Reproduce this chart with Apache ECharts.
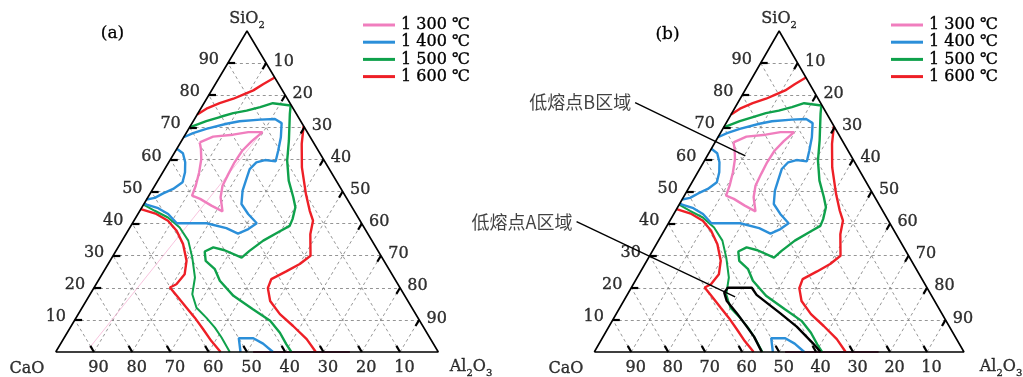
<!DOCTYPE html>
<html>
<head>
<meta charset="utf-8">
<script src="https://cdn.jsdelivr.net/npm/echarts@6/dist/echarts.min.js"></script>
<style>
  html, body { margin: 0; padding: 0; background: #fff; }
  #chart { width: 1023px; height: 377px; }
</style>
</head>
<body>
<div id="chart"></div>
<script>
// CaO–SiO2–Al2O3 liquidus contours. Every point is a composition [SiO2, Al2O3] in wt%, CaO is the balance.
const temps = ['1 300 ℃', '1 400 ℃', '1 500 ℃', '1 600 ℃'];
const tempColors = ['#F07EBE', '#2B8FD9', '#0FA14B', '#EE1F26'];
const gridTicks = [10, 20, 30, 40, 50, 60, 70, 80, 90];

const iso1300 = [[65.3,5.0],[67.1,7.6],[67.7,12.5],[68.5,16.1],[68.5,19.8],[65.7,18.4],[62.7,17.4],[59.1,17.2],[55.5,17.4],[51.8,17.7],[48.2,19.0],[43.8,21.7],[45.6,17.9],[47.7,13.9],[48.7,11.3],[51.8,10.7],[56.0,9.5],[60.1,8.0],[63.3,6.3],[65.3,5.0]];
const iso1300Trace = [[66.9,19.4],[1.35,8.2]];

const iso1400Main = [[66.9,0],[68.2,1.8],[69.5,4.6],[71.1,9.1],[71.9,12.1],[72.4,17.2],[72.6,21.0],[71.3,23.4],[66.9,25.4],[62.7,26.8],[59.4,27.8],[59.8,24.8],[59.1,22.9],[57.0,22.2],[53.4,23.0],[50.3,23.7],[46.1,25.5],[43.0,28.8],[40.1,32.5],[38.3,31.2],[36.9,29.2],[38.6,25.3],[40.1,19.4],[40.1,11.6],[43.0,7.9],[44.8,4.4],[45.9,0.8],[46.3,0]];
const iso1400Edge = [[63.3,0],[61.9,2.3],[59.1,4.3],[56.0,5.8],[52.9,6.7],[50.8,5.3],[49.4,3.4],[48.0,1.9],[47.5,0]];
const iso1400Base = [[0,48.3],[4.3,45.7],[4.3,49.5],[2.6,52.9],[0,56.8]];

const iso1500Main = [[70.0,0],[71.9,3.4],[73.2,6.3],[74.4,9.2],[75.2,12.3],[76.3,15.3],[77.5,18.0],[76.8,23.0],[74.2,24.1],[65.9,28.0],[59.6,30.7],[53.4,34.2],[48.2,38.0],[45.1,40.1],[41.4,41.2],[39.3,41.5],[37.6,39.8],[34.7,36.9],[31.5,34.9],[29.4,33.9],[31.7,28.3],[32.6,24.9],[31.3,23.3],[28.4,25.0],[25.8,28.7],[22.2,31.8],[17.5,37.7],[13.3,44.9],[9.7,51.2],[6.0,55.6],[2.4,59.1],[0,61.6]];
const iso1500Lime = [[45.9,0],[44.0,3.9],[41.9,8.4],[38.8,13.0],[34.7,17.3],[29.4,21.0],[23.2,24.8],[18.0,26.7],[13.8,29.9],[10.7,34.0],[7.6,37.8],[4.5,41.1],[0,45.5]];

const iso1600Top = [[74.0,0],[75.8,1.5],[77.5,4.1],[78.9,7.0],[80.2,8.9],[81.5,10.9],[83.4,12.5],[85.5,14.5]];
const iso1600Right = [[70.4,29.6],[64.8,31.9],[57.5,35.6],[49.2,40.8],[44.0,44.4],[40.9,46.8],[36.7,48.2],[30.0,51.6],[27.4,50.1],[25.1,47.7],[22.7,45.0],[19.9,45.5],[15.9,48.1],[11.8,52.7],[8.1,58.0],[4.0,63.6],[0,68.0]];
const iso1600Left = [[44.5,0],[43.0,4.8],[40.9,8.9],[37.8,12.7],[33.6,16.5],[28.4,20.0],[24.2,21.6],[21.1,21.0],[20.1,19.8],[17.5,22.9],[13.8,27.3],[10.7,31.0],[7.1,35.0],[3.4,39.0],[0,43.1]];

const baseSegment = [[0,51.6],[0,76.9]];

// low-melting region A outline and the two call-out leaders (panel b)
const regionA = [[0,45.3],[4.8,40.8],[7.9,37.3],[12.1,32.5],[16.0,27.8],[18.5,25.9],[20.0,26.1],[20.0,32.6],[17.8,35.0],[12.1,44.2],[7.9,50.8],[2.7,57.8],[0,61.2]];
const leaderB = [[77.7,-27.8],[61.1,10.3]];
const leaderA = [[40.6,-25.1],[17.2,29.5]];
const calloutTexts = ['低熔点B区域', '低熔点A区域'];

// ternary composition -> cartesian (x across the base, y = SiO2)
function xy(p) { return [p[1] + p[0] / 2, p[0]]; }

const panels = [
  { left: 55.7, width: 382.6, tag: '(a)', tagX: 112.7, tagY: 36, legendLeft: 363, alDx: 32.7, caDx: -28.7, callouts: false },
  { left: 594.3, width: 369.7, tag: '(b)', tagX: 667.3, tagY: 37, legendLeft: 891, alDx: 37, caDx: -28.3, callouts: true }
];

const FONT = 'DejaVu Serif';
const INK = '#000';
const EMBOLDEN = { textBorderColor: INK, textBorderWidth: 0.35 };
const series = [];
const graphic = [];

function lineSeries(gi, pts, color, width, extra) {
  return Object.assign({
    type: 'line', xAxisIndex: gi, yAxisIndex: gi, data: pts.map(xy),
    showSymbol: false, symbol: 'none', clip: false, silent: true, animation: false,
    lineStyle: { color: color, width: width }, itemStyle: { color: color }, z: 3
  }, extra || {});
}

function segSeries(gi, segs, style, z) {
  return {
    type: 'lines', coordinateSystem: 'cartesian2d', xAxisIndex: gi, yAxisIndex: gi,
    data: segs.map(s => ({ coords: [xy(s[0]), xy(s[1])] })),
    lineStyle: Object.assign({ opacity: 1, curveness: 0 }, style),
    silent: true, clip: false, z: z, animation: false
  };
}

function labelSeries(gi, pts, texts, offset, rich) {
  return {
    type: 'scatter', xAxisIndex: gi, yAxisIndex: gi, symbolSize: 0, silent: true, clip: false, z: 6,
    data: pts.map((p, k) => ({ value: xy(p), name: texts[k] })),
    label: Object.assign({
      show: true, position: 'inside', offset: offset, formatter: '{b}',
      fontFamily: FONT, fontSize: 16, color: INK, align: 'center', verticalAlign: 'middle',
      rich: rich
    }, EMBOLDEN)
  };
}

panels.forEach((p, gi) => {
  // dashed composition grid
  const segs = [];
  gridTicks.forEach(k => {
    segs.push([[k, 0], [k, 100 - k]]);           // constant SiO2
    segs.push([[0, k], [100 - k, k]]);           // constant Al2O3
    segs.push([[0, 100 - k], [100 - k, 0]]);     // constant CaO
  });
  series.push(segSeries(gi, segs, { color: '#8a8a8a', width: 0.9, type: [3, 3] }, 1));

  // triangle frame
  series.push(lineSeries(gi, [[0, 0], [0, 100], [100, 0], [0, 0]], '#000', 1.6, { z: 5 }));

  // edge ticks, drawn inward
  const ticks = [];
  gridTicks.forEach(k => {
    ticks.push([[k, 0], [k, 1.9]]);
    ticks.push([[100 - k, k], [98.1 - k, k]]);
    ticks.push([[0, 100 - k], [1.9, 98.1 - k]]);
  });
  series.push(segSeries(gi, ticks, { color: '#000', width: 2.2 }, 5));

  // isotherms
  series.push(lineSeries(gi, baseSegment, '#9A3F6A', 2, { z: 2 }));
  if (!p.callouts) series.push(lineSeries(gi, iso1300Trace, '#F6B5D6', 0.8, { z: 2 }));
  series.push(lineSeries(gi, iso1600Top, tempColors[3], 2.4, { name: temps[3] }));
  series.push(lineSeries(gi, iso1600Right, tempColors[3], 2.4, { name: temps[3] }));
  series.push(lineSeries(gi, iso1600Left, tempColors[3], 2.4, { name: temps[3] }));
  series.push(lineSeries(gi, iso1500Main, tempColors[2], 2.4, { name: temps[2] }));
  series.push(lineSeries(gi, iso1500Lime, tempColors[2], 2.0, { name: temps[2] }));
  series.push(lineSeries(gi, iso1400Main, tempColors[1], 2.4, { name: temps[1] }));
  series.push(lineSeries(gi, iso1400Edge, tempColors[1], 2.4, { name: temps[1] }));
  series.push(lineSeries(gi, iso1400Base, tempColors[1], 2.4, { name: temps[1] }));
  series.push(lineSeries(gi, iso1300, tempColors[0], 2.4, { name: temps[0] }));

  if (p.callouts) {
    series.push(lineSeries(gi, regionA, '#000', 2.4, { z: 4 }));
    series.push(segSeries(gi, [leaderB, leaderA], { color: '#000', width: 1.4 }, 4));
    series.push({
      type: 'scatter', xAxisIndex: gi, yAxisIndex: gi, symbolSize: 0, silent: true, clip: false, z: 6,
      data: [leaderB[0], leaderA[0]].map((q, k) => ({ value: xy(q), name: calloutTexts[k] })),
      label: { show: true, position: 'left', distance: 4, formatter: '{b}', fontFamily: 'Noto Sans CJK SC', fontSize: 18, color: '#111' }
    });
  }

  // tick labels: SiO2 on the left edge, Al2O3 on the right edge, CaO along the base
  const txt = gridTicks.map(String);
  series.push(labelSeries(gi, gridTicks.map(k => [k, 0]), txt, [-19, -3]));
  series.push(labelSeries(gi, gridTicks.map(k => [100 - k, k]), txt, [17.5, -1.5]));
  series.push(labelSeries(gi, gridTicks.map(k => [0, 100 - k]), txt, [4.5, 16]));

  // vertex names
  const rich = {
    m: Object.assign({ fontFamily: FONT, fontSize: 16, lineHeight: 18, verticalAlign: 'bottom', color: INK }, EMBOLDEN),
    s: Object.assign({ fontFamily: FONT, fontSize: 10, lineHeight: 12, verticalAlign: 'bottom', color: INK, padding: [0, 0, -3, 0] }, EMBOLDEN)
  };
  series.push(labelSeries(gi, [[100, 0]], ['{m|SiO}{s|2}'], [0, -13], rich));
  series.push(labelSeries(gi, [[0, 0]], ['{m|CaO}'], [p.caDx, 16], rich));
  series.push(labelSeries(gi, [[0, 100]], ['{m|Al}{s|2}{m|O}{s|3}'], [p.alDx, 14], rich));

  graphic.push({
    type: 'text', left: p.tagX - 12, top: p.tagY - 11,
    style: { text: p.tag, font: '17px "DejaVu Serif"', fill: INK, stroke: INK, lineWidth: 0.3 }
  });
});

const option = {
  animation: false,
  backgroundColor: '#fff',
  textStyle: { fontFamily: FONT },
  color: tempColors,
  grid: panels.map(p => ({ left: p.left, top: 31, width: p.width, height: 321, containLabel: false })),
  xAxis: panels.map((p, i) => ({ type: 'value', gridIndex: i, min: 0, max: 100, show: false })),
  yAxis: panels.map((p, i) => ({ type: 'value', gridIndex: i, min: 0, max: 100, show: false })),
  legend: panels.map(p => ({
    data: temps, orient: 'vertical', left: p.legendLeft, top: 16.5, padding: 0,
    itemWidth: 32, itemHeight: 3, itemGap: 0.2, icon: 'rect', selectedMode: false,
    textStyle: Object.assign({ fontFamily: FONT, fontSize: 16, lineHeight: 17, color: INK, padding: [0, 0, 0, 1] }, EMBOLDEN)
  })),
  graphic: graphic,
  series: series
};

echarts.init(document.getElementById('chart'), null, { renderer: 'canvas' }).setOption(option);
</script>
</body>
</html>
